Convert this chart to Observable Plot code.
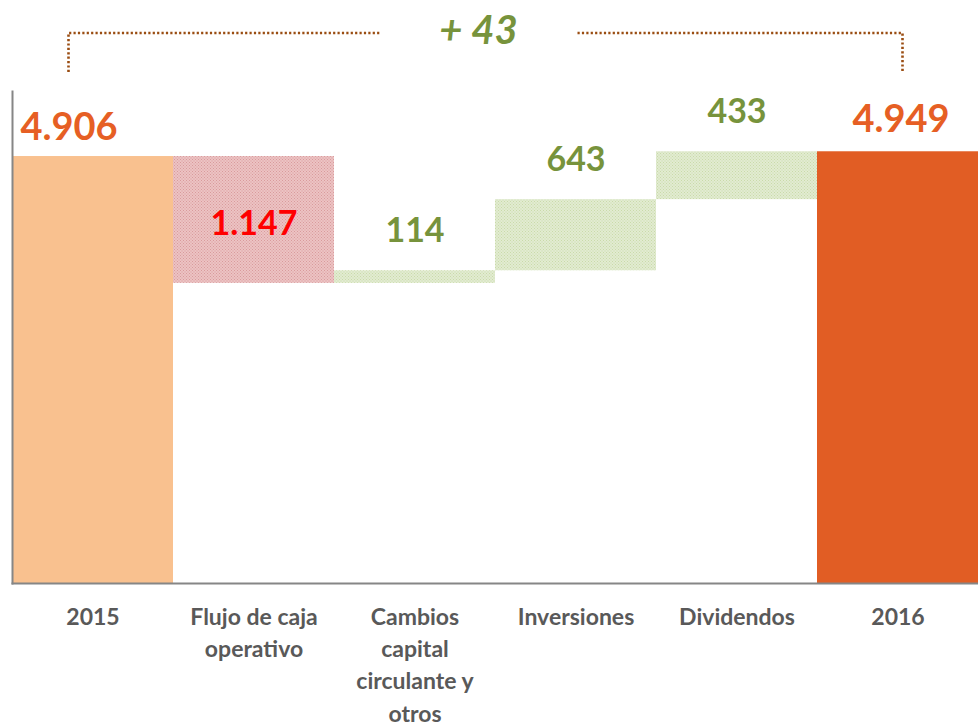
<!DOCTYPE html>
<html>
<head>
<meta charset="utf-8">
<script src="https://cdn.jsdelivr.net/npm/d3@7"></script>
<script src="https://cdn.jsdelivr.net/npm/@observablehq/plot@0.6"></script>
<style>
  html, body { margin: 0; padding: 0; background: #ffffff; }
  #chart { width: 978px; height: 727px; overflow: hidden; }
</style>
</head>
<body>
<div id="chart"></div>
<script>
// ---- data ----
const categories = ["2015", "Flujo de caja operativo", "Cambios capital circulante y otros", "Inversiones", "Dividendos", "2016"];
const tickLabels = ["2015", "Flujo de caja\noperativo", "Cambios\ncapital\ncirculante y\notros", "Inversiones", "Dividendos", "2016"];
const values = [4906, -1147, 114, 643, 433, 4949];
const kinds = ["start", "decrease", "increase", "increase", "increase", "end"];
const yDomain = [1045, 5494];

// ---- build waterfall rows ----
const es = d3.formatLocale({decimal: ",", thousands: ".", grouping: [3], currency: ["", " €"]});
const fmt = es.format(",d");
let running = 0;
const rows = categories.map((c, i) => {
  let y1, y2;
  if (kinds[i] === "start" || kinds[i] === "end") { y1 = 0; y2 = values[i]; running = values[i]; }
  else { y1 = running; y2 = running + values[i]; running = y2; }
  return {cat: c, kind: kinds[i], value: values[i], y1, y2,
          top: Math.max(y1, y2), mid: (y1 + y2) / 2, label: fmt(Math.abs(values[i]))};
});
const diff = values[values.length - 1] - values[0];

const FONT = "Lato, 'Open Sans', sans-serif";
const labelDx = -24;

const bracket = (index, scales, vals, dims) => {
  const x = scales.x;
  const bw = x.bandwidth ? x.bandwidth() : (dims.width - dims.marginLeft - dims.marginRight) / categories.length;
  const xa = x(categories[0]) + bw / 2 + labelDx;
  const xb = x(categories[categories.length - 1]) + bw / 2 + 5;
  const yTop = dims.marginTop - 58, yBot = dims.marginTop - 19;
  const xm = (xa + xb) / 2 - 7, gap = 99;
  const g = d3.create("svg:g");
  const stroke = "#9a4d12";
  [[[xa, yBot], [xa, yTop], [xm - gap, yTop]], [[xm + gap, yTop], [xb, yTop], [xb, yBot]]].forEach(pts => {
    g.append("path")
      .attr("d", d3.line()(pts))
      .attr("fill", "none").attr("stroke", stroke).attr("stroke-width", 2.6)
      .attr("stroke-dasharray", "2.2 2.2");
  });
  g.append("text")
    .attr("x", xm).attr("y", yTop - 3)
    .attr("text-anchor", "middle").attr("dy", "0.35em")
    .attr("font-family", FONT).attr("font-size", 40)
    .attr("font-weight", "bold").attr("font-style", "italic")
    .attr("fill", "#77933c")
    .text("+ " + fmt(diff));
  return g.node();
};

const chart = Plot.plot({
  width: 978,
  height: 727,
  marginTop: 91,
  marginBottom: 144,
  marginLeft: 12,
  marginRight: 0,
  style: {fontFamily: FONT, background: "transparent"},
  x: {domain: categories, padding: 0, label: null},
  y: {domain: yDomain, axis: null},
  marks: [
    Plot.rectY(rows, {filter: d => d.kind === "start", x: "cat", y1: "y1", y2: "y2", fill: "#f9c18f", clip: true}),
    Plot.rectY(rows, {filter: d => d.kind === "end", x: "cat", y1: "y1", y2: "y2", fill: "#e15d24", clip: true}),
    Plot.rectY(rows, {filter: d => d.kind === "decrease", x: "cat", y1: "y1", y2: "y2", fill: "url(#redPat)"}),
    Plot.rectY(rows, {filter: d => d.kind === "increase", x: "cat", y1: "y1", y2: "y2", fill: "url(#greenPat)"}),
    Plot.frame({anchor: "left", stroke: "#868686", strokeWidth: 2}),
    Plot.frame({anchor: "bottom", stroke: "#868686", strokeWidth: 2}),
    Plot.axisX({tickSize: 0, tickPadding: 18, lineAnchor: "top", lineHeight: 1.41,
      fontSize: 23, fontWeight: "bold", color: "#595959", label: null,
      tickFormat: (d, i) => tickLabels[categories.indexOf(d)]}),
    Plot.text(rows, {filter: d => d.kind === "start", x: "cat", y: "top", text: "label", dy: -29, dx: labelDx,
      fill: "#e65f24", fontSize: 38, fontWeight: "bold"}),
    Plot.text(rows, {filter: d => d.kind === "end", x: "cat", y: "top", text: "label", dy: -32, dx: 3,
      fill: "#e65f24", fontSize: 38, fontWeight: "bold"}),
    Plot.text(rows, {filter: d => d.kind === "decrease", x: "cat", y: "mid", text: "label", dy: 4,
      fill: "#ff0000", fontSize: 34, fontWeight: "bold"}),
    Plot.text(rows, {filter: d => d.kind === "increase", x: "cat", y: "top", text: "label", dy: -40,
      fill: "#77933c", fontSize: 34, fontWeight: "bold"}),
    bracket
  ]
});

// patterns for the hatched step bars
const svg = chart.tagName.toLowerCase() === "svg" ? chart : chart.querySelector("svg");
const defs = d3.select(svg).insert("defs", ":first-child");
function addPattern(id, bg, fg) {
  const p = defs.append("pattern").attr("id", id).attr("patternUnits", "userSpaceOnUse")
    .attr("width", 3).attr("height", 3);
  p.append("rect").attr("width", 3).attr("height", 3).attr("fill", bg);
  p.append("rect").attr("width", 1).attr("height", 1).attr("fill", fg);
  p.append("rect").attr("x", 1.5).attr("y", 1.5).attr("width", 1).attr("height", 1).attr("fill", fg);
}
addPattern("redPat", "#ecc3c3", "#d99a9c");
addPattern("greenPat", "#e2ebd1", "#c9dba9");

document.getElementById("chart").appendChild(chart);
</script>
</body>
</html>
